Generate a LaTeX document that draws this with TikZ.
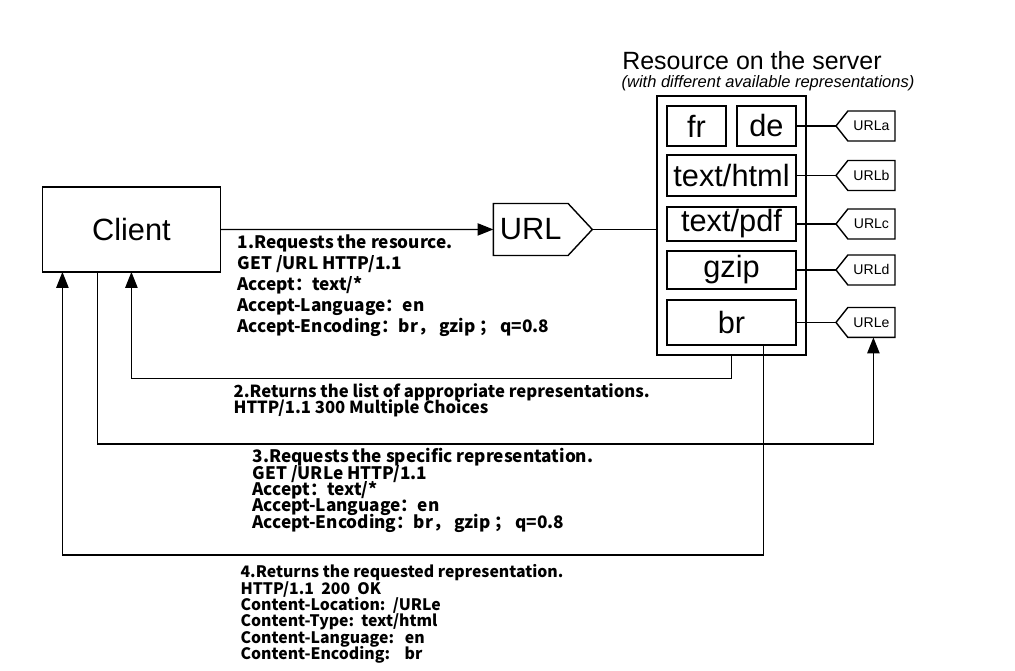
\documentclass[tikz,border=0pt]{standalone}
\usepackage{fontspec}
\setmainfont{Liberation Sans}
\newfontfamily\cjk{Noto Sans CJK SC}
\usetikzlibrary{positioning,arrows.meta,fit,shapes.symbols,calc}
\setlength{\lineskiplimit}{-20pt}

\begin{document}
\begin{tikzpicture}[
  x=0.02cm, y=-0.02cm,
  box/.style={draw, line width=0.8pt, inner sep=0pt, outer sep=0pt, font=\fontsize{17.5}{20}\selectfont},
  rep/.style={box, minimum width=2.58cm},
  tag/.style={draw, line width=0.8pt, signal, signal to=west, signal pointer angle=103, outer sep=0pt,
    minimum width=1.18cm, minimum height=0.6cm, inner sep=0pt, font=\fontsize{8}{9.6}\selectfont},
  msg/.style={anchor=north west, align=left, inner sep=0pt,
    font=\cjk\bfseries\fontsize{#1}{9.3}\selectfont},
  arr/.style={-{Triangle[length=9pt,width=7pt]}},
  line width=0.7pt, node distance=0.2cm
]
\useasboundingbox (0,0) rectangle (1015,671);

\node[box, minimum width=1.18cm, minimum height=0.8cm] (fr) at (696.5,126) {fr};
\node[box, minimum width=1.18cm, minimum height=0.8cm, right=0.22cm of fr] (de) {de};
\node[rep, minimum height=0.82cm, below=0.18cm of fr.south west, anchor=north west] (html) {text/html};
\node[rep, minimum height=0.68cm, below=0.22cm of html] (pdf) {text/pdf};
\node[rep, minimum height=0.76cm, below=0.2cm of pdf] (gzip) {gzip};
\node[rep, minimum height=0.9cm, below=0.22cm of gzip] (br) {br};
\node[draw, line width=0.8pt, inner sep=0.2cm, fit=(fr)(de)(br)] (res) {};

\node[tag, right=0.8cm of de] (urla) {URLa};
\node[tag, right=0.8cm of html] (urlb) {URLb};
\node[tag, right=0.8cm of pdf] (urlc) {URLc};
\node[tag, right=0.8cm of gzip] (urld) {URLd};
\node[tag, right=0.8cm of br] (urle) {URLe};

\node[box, signal, signal to=east, signal pointer angle=94, minimum width=1.98cm,
  minimum height=1.04cm, left=1.28cm of res, yshift=-0.08cm] (url) {URL};
\node[box, minimum width=3.56cm, minimum height=1.7cm, left=5.46cm of url] (client) {Client};

\node[font=\fontsize{14.2}{17}\selectfont] (title) at (752,61) {Resource on the server};
\node[font=\fontsize{9.4}{11}\selectfont\itshape] (subtitle) at (768,83) {(with different available representations)};

\node[msg=9.8, font=\cjk\bfseries\fontsize{9.8}{12}\selectfont] (m1) at (237,234)
  {1.Requests the resource.\\GET /URL HTTP/1.1\\Accept：text/*\\Accept-Language：en\\Accept-Encoding：br， gzip ； q=0.8};
\node[msg=9.5] (m2) at (233,383)
  {2.Returns the list of appropriate representations.\\HTTP/1.1 300 Multiple Choices};
\node[msg=9.8] (m3) at (252,448)
  {3.Requests the specific representation.\\GET /URLe HTTP/1.1\\Accept：text/*\\Accept-Language：en\\Accept-Encoding：br， gzip ； q=0.8};
\node[msg=9.0] (m4) at (240,564)
  {4.Returns the requested representation.\\HTTP/1.1\ \ 200\ \ OK\\Content-Location:\ \ /URLe\\Content-Type:\ \ text/html\\Content-Language:\ \ \ en\\Content-Encoding:\ \ \ \ br};

\coordinate (out3) at ($(client.south)+(-34,0)$);
\coordinate (in3) at ($(urle.south)+(2,0)$);
\coordinate (out4) at ($(br.south)+(32,0)$);
\coordinate (in4) at ($(client.south)+(-69,0)$);

\draw[arr] (client) -- (url);
\draw (url.east) -- (url.east -| res.west);
\draw (de.east) -- (urla.west);
\draw (html.east) -- (urlb.west);
\draw (pdf.east) -- (urlc.west);
\draw (gzip.east) -- (urld.west);
\draw (br.east) -- (urle.west);
\draw[arr] (res.south) -- ++(0,23) -| (client.south);
\draw[arr] (out3) -- ++(0,172) -| (in3);
\draw[arr] (out4) -- ++(0,210) -| (in4);
\end{tikzpicture}
\end{document}
